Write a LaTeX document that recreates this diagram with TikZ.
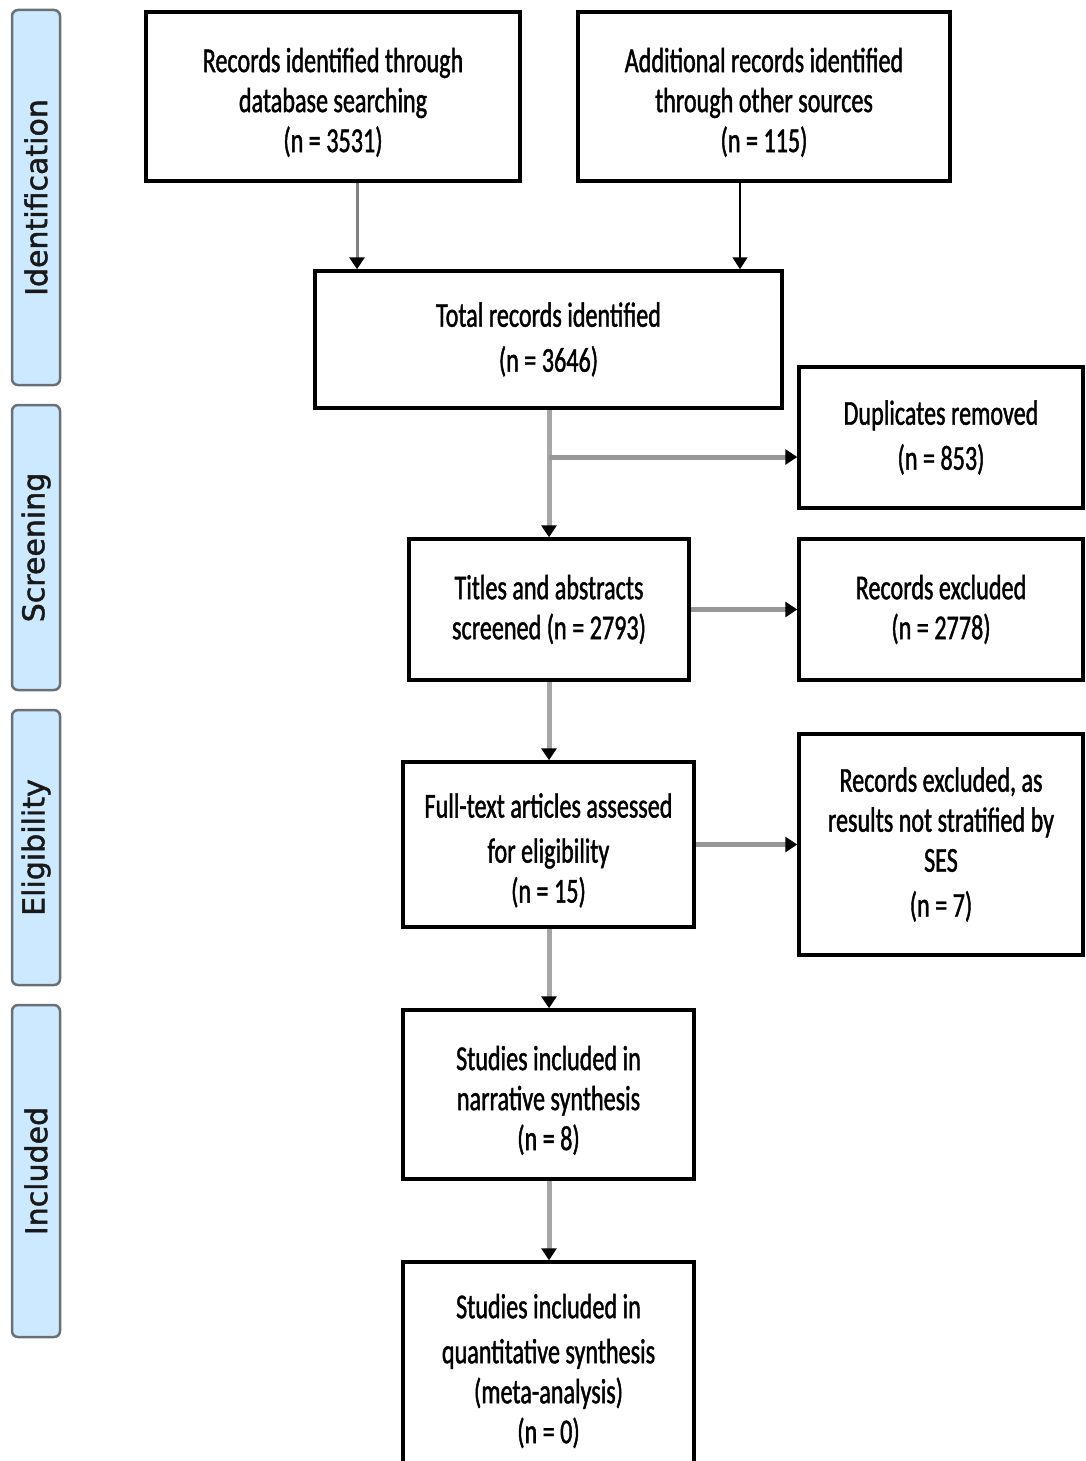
\documentclass[tikz,border=0pt]{standalone}
\usepackage{fontspec}
\usetikzlibrary{arrows.meta}
\newfontfamily\boxfont[FakeStretch=0.69,FakeBold=1.2]{Carlito}
\newfontfamily\sidefont[FakeBold=1.5]{DejaVu Sans}
\definecolor{barfill}{HTML}{CCE9FF}
\definecolor{bardraw}{HTML}{6A7075}
\definecolor{linkgray}{HTML}{A6A6A6}
\definecolor{hlinkgray}{HTML}{979797}
\newcommand{\dn}{\rule{0pt}{36pt}}
\tikzset{
  flowbox/.style={draw=black, line width=3.5pt, fill=white, inner sep=0pt,
    align=center, font=\boxfont\fontsize{35}{40}\selectfont},
  sidebar/.style={draw=bardraw, line width=2.5pt, fill=barfill, rounded corners=6pt,
    inner sep=0pt, minimum height=48pt, rotate=90,
    font=\sidefont\fontsize{30}{32}\selectfont, text=black!90},
  tip/.style={-{Triangle[length=12pt,width=15pt,color=black]}},
  vlink/.style={tip, draw=linkgray, line width=5pt},
  hlink/.style={tip, draw=hlinkgray, line width=5pt}
}
\begin{document}
\begin{tikzpicture}[x=1pt,y=-1pt]
\useasboundingbox (0,0) rectangle (1086,1461);
\clip (0,0) rectangle (1086,1461);
% side bars
\node[sidebar, minimum width=375pt] (s1) at (36,197.5) {Identification};
\node[sidebar, minimum width=285pt] (s2) at (36,547.5) {Screening};
\node[sidebar, minimum width=275pt] (s3) at (36,847.5) {Eligibility};
\node[sidebar, minimum width=332pt] (s4) at (36,1171) {Included};
% boxes
\node[flowbox, minimum width=374pt, minimum height=169pt] (A) at (333,96.5)
  {\dn Records identified through\\database searching\\(n = 3531)};
\node[flowbox, minimum width=372pt, minimum height=169pt] (B) at (764,96.5)
  {\dn Additional records identified\\through other sources\\(n = 115)};
\node[flowbox, minimum width=467pt, minimum height=137pt] (C) at (548.5,339.5)
  {Total records identified\\[5pt](n = 3646)};
\node[flowbox, minimum width=284pt, minimum height=141pt] (D) at (941,437.5)
  {Duplicates removed\\[5pt](n = 853)};
\node[flowbox, minimum width=280pt, minimum height=141pt] (E) at (549,609.5)
  {Titles and abstracts\\screened (n = 2793)};
\node[flowbox, minimum width=284pt, minimum height=141pt] (F) at (941,609.5)
  {Records excluded\\(n = 2778)};
\node[flowbox, minimum width=291pt, minimum height=165pt] (G) at (548.5,844.5)
  {\dn Full-text articles assessed\\[5pt]for eligibility\\(n = 15)};
\node[flowbox, minimum width=284pt, minimum height=221pt] (H) at (941,844.5)
  {Records excluded, as\\results not stratified by\\SES\\[5pt](n = 7)};
\node[flowbox, minimum width=291pt, minimum height=169pt] (I) at (548.5,1094.5)
  {\dn Studies included in\\narrative synthesis\\(n = 8)};
\node[flowbox, minimum width=291pt, minimum height=218pt] (J) at (548.5,1371)
  {Studies included in\\[5pt]quantitative synthesis\\(meta-analysis)\\(n = 0)};
% connectors
\coordinate (a1) at (357,0);
\coordinate (b1) at (740,0);
\draw[tip, draw=gray, line width=3pt] (A.south -| a1) -- (C.north -| a1);
\draw[tip, draw=black, line width=1.5pt] (B.south -| b1) -- (C.north -| b1);
\coordinate (br) at (549,457);
\draw[vlink] (C.south -| E.north) -- (E.north);
\draw[hlink] (br) -- (br -| D.west);
\draw[hlink] (E.east) -- (F.west);
\draw[vlink] (E.south) -- (G.north -| E.south);
\draw[hlink] (G.east) -- (H.west);
\draw[vlink] (G.south -| E.south) -- (I.north -| E.south);
\draw[vlink] (I.south -| E.south) -- (J.north -| E.south);
\end{tikzpicture}
\end{document}
